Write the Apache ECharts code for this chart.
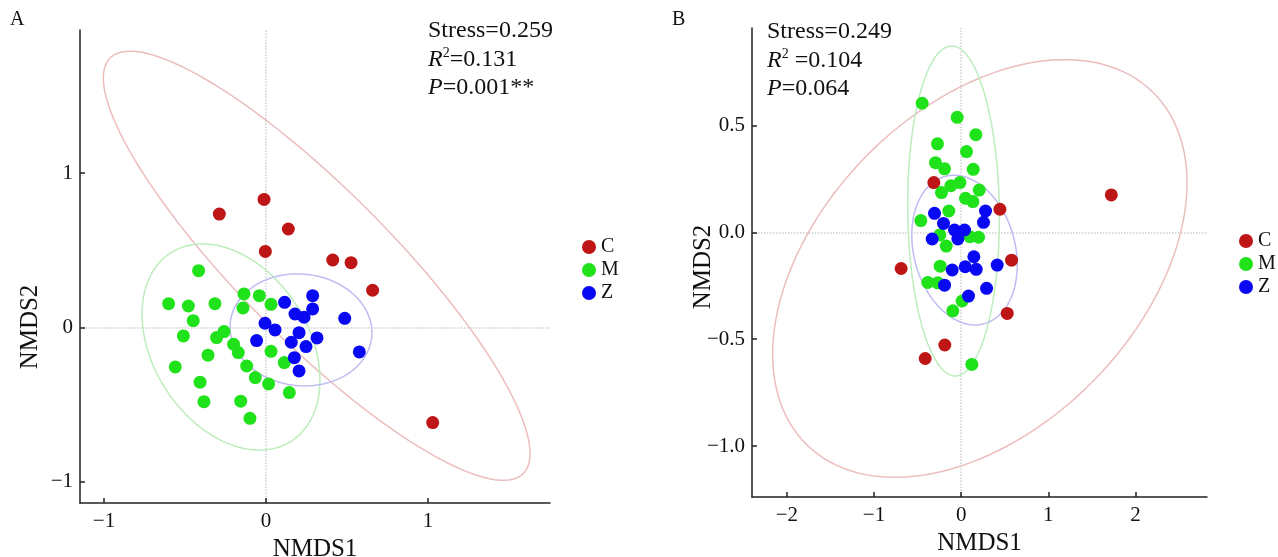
<!DOCTYPE html>
<html>
<head>
<meta charset="utf-8">
<script src="https://cdn.jsdelivr.net/npm/echarts@6/dist/echarts.min.js"></script>
<style>
html,body{margin:0;padding:0;background:#fff;}
#chart{width:1278px;height:557px;}
</style>
</head>
<body>
<div id="chart"></div>
<script>
// panel A points [NMDS1, NMDS2]
var aC=[[-0.012,0.829],[-0.288,0.734],[0.138,0.637],[-0.004,0.492],[0.412,0.436],[0.525,0.419],[0.658,0.240],[1.029,-0.618]];
var aM=[[-0.416,0.367],[-0.601,0.153],[-0.479,0.138],[-0.315,0.153],[-0.136,0.216],[-0.041,0.205],[0.031,0.149],[-0.142,0.125],
    [-0.449,0.043],[-0.510,-0.056],[-0.259,-0.028],[-0.305,-0.067],[-0.200,-0.110],[-0.171,-0.164],[0.031,-0.156],[-0.358,-0.181],
    [-0.560,-0.257],[-0.119,-0.251],[0.113,-0.229],[-0.066,-0.326],[-0.407,-0.356],[0.016,-0.367],[-0.383,-0.482],[-0.156,-0.479],
    [0.144,-0.423],[-0.099,-0.590]];
var aZ=[[0.288,0.205],[0.115,0.162],[0.288,0.119],[0.179,0.086],[0.235,0.065],[0.486,0.058],[-0.006,0.026],[0.056,-0.017],
    [0.204,-0.035],[0.315,-0.069],[-0.058,-0.086],[0.156,-0.097],[0.247,-0.125],[0.576,-0.160],[0.175,-0.197],[0.204,-0.283]];

// panel B points
var bC=[[-0.314,0.233],[0.444,0.108],[0.578,-0.130],[-0.689,-0.169],[0.528,-0.379],[-0.188,-0.527],[-0.413,-0.590],[1.722,0.175]];
var bM=[[-0.448,0.604],[-0.046,0.538],[0.168,0.457],[-0.272,0.414],[0.061,0.378],[-0.295,0.326],[-0.191,0.297],[0.138,0.295],
    [-0.015,0.233],[-0.119,0.218],[0.207,0.198],[-0.226,0.186],[0.050,0.159],[0.134,0.144],[-0.142,0.100],[-0.463,0.055],
    [-0.245,-0.012],[-0.172,-0.064],[0.100,-0.020],[0.199,-0.023],[-0.241,-0.158],[-0.383,-0.234],[-0.268,-0.236],[0.011,-0.321],
    [-0.096,-0.367],[0.122,-0.618]];
var bZ=[[-0.306,0.089],[0.279,0.100],[-0.203,0.042],[0.256,0.047],[-0.077,0.011],[0.038,0.011],[-0.038,-0.031],[-0.333,-0.031],
    [0.145,-0.114],[0.046,-0.161],[-0.103,-0.176],[0.172,-0.173],[0.413,-0.153],[-0.191,-0.247],[0.291,-0.262],[0.084,-0.298]];

// ellipses: [centre x, centre y, half width, half height, correlation]
var ellAC=[0.313,0.399,1.317,1.391,-0.875];
var ellAM=[-0.216,-0.128,0.549,0.668,-0.32];
var ellAZ=[0.216,-0.017,0.438,0.363,-0.05];
var ellBC=[0.214,-0.169,2.377,0.977,0.41];
var ellBM=[-0.088,0.100,0.526,0.772,-0.04];
var ellBZ=[0.038,-0.083,0.605,0.350,-0.2];

var groups=['C','M','Z'];
var ticksAx=[-1,0,1];
var ticksAy=[-1,0,1];
var ticksBx=[-2,-1,0,1,2];
var ticksBy=[-1.0,-0.5,0.0,0.5];

var FONT="'Liberation Serif','Times New Roman',serif";
var dotColors=['#BE1616','#20E21B','#0808F2'];
var ringColors=['#EDBDBD','#BDEDBD','#BDBDF3'];

function ellipse(p){
    var pts=[],n=140;
    var k=Math.sqrt(1-p[4]*p[4]);
    for(var i=0;i<=n;i++){
        var t=i/n*2*Math.PI;
        pts.push([p[0]+p[2]*Math.cos(t),p[1]+p[3]*(p[4]*Math.cos(t)+k*Math.sin(t))]);
    }
    return pts;
}
function minus(v){return String(v).replace('-','\u2212');}

function xAxisOf(idx,min,max,ticks,fmt){
    return {
        gridIndex:idx,type:'value',min:min,max:max,
        name:'NMDS1',nameLocation:'middle',nameGap:30,
        nameTextStyle:{fontFamily:FONT,fontSize:25,color:'#111'},
        axisLine:{onZero:false,lineStyle:{color:'#222',width:1.5}},
        axisTick:{inside:true,length:5,customValues:ticks,lineStyle:{color:'#222',width:1.5}},
        axisLabel:{customValues:ticks,margin:8,fontFamily:FONT,fontSize:21,color:'#111',formatter:fmt},
        splitLine:{show:false}
    };
}
function yAxisOf(idx,min,max,ticks,fmt){
    return {
        gridIndex:idx,type:'value',min:min,max:max,
        axisLine:{onZero:false,lineStyle:{color:'#222',width:1.5}},
        axisTick:{inside:true,length:5,customValues:ticks,lineStyle:{color:'#222',width:1.5}},
        axisLabel:{customValues:ticks,margin:7,fontFamily:FONT,fontSize:21,color:'#111',formatter:fmt},
        splitLine:{show:false}
    };
}

function panelSeries(idx,pts,ells){
    var out=[];
    ells.forEach(function(e,i){
        var s={
            name:groups[i]+'-ellipse',type:'line',xAxisIndex:idx,yAxisIndex:idx,
            data:ellipse(e),showSymbol:false,silent:true,z:1,
            lineStyle:{color:ringColors[i],width:1.5}
        };
        if(i===0){
            // zero reference lines, kept under the dots
            s.markLine={
                silent:true,z:0,symbol:['none','none'],label:{show:false},
                lineStyle:{color:'#D0D0D0',type:'dotted',width:1.5},
                data:[{xAxis:0},{yAxis:0}]
            };
        }
        out.push(s);
    });
    pts.forEach(function(d,i){
        out.push({
            name:groups[i],type:'scatter',xAxisIndex:idx,yAxisIndex:idx,
            data:d,symbol:'circle',symbolSize:13,z:3,
            itemStyle:{color:dotColors[i],opacity:1}
        });
    });
    return out;
}

function legendAt(left,top){
    return {
        orient:'vertical',left:left,top:top,itemGap:3,itemWidth:14,itemHeight:14,
        icon:'circle',selectedMode:false,
        textStyle:{fontFamily:FONT,fontSize:20,color:'#111',lineHeight:20},
        data:groups
    };
}

function statText(x,y,lines){
    var rich={
        n:{fontFamily:FONT,fontSize:24,fill:'#111'},
        i:{fontFamily:FONT,fontSize:24,fontStyle:'italic',fill:'#111'},
        s:{fontFamily:FONT,fontSize:14,fill:'#111',padding:[0,0,12,0]}
    };
    return lines.map(function(t,k){
        return {type:'text',x:x,y:y+k*28.3,style:{text:t,rich:rich,verticalAlign:'middle',fill:'#111',fontFamily:FONT,fontSize:24}};
    });
}

var chart=echarts.init(document.getElementById('chart'));
var option={
    animation:false,
    backgroundColor:'#fff',
    grid:[
        {left:80,top:30,width:470,height:473,containLabel:false,outerBoundsMode:'none'},
        {left:752,top:28,width:455,height:469,containLabel:false,outerBoundsMode:'none'}
    ],
    xAxis:[
        xAxisOf(0,-1.148,1.753,ticksAx,function(v){return minus(v);}),
        xAxisOf(1,-2.40,2.82,ticksBx,function(v){return minus(v);})
    ],
    yAxis:[
        yAxisOf(0,-1.139,1.927,ticksAy,function(v){return minus(v);}),
        yAxisOf(1,-1.238,0.956,ticksBy,function(v){return minus(v.toFixed(1));})
    ],
    legend:[legendAt(577,232),legendAt(1234,226)],
    series:panelSeries(0,[aC,aM,aZ],[ellAC,ellAM,ellAZ]).concat(panelSeries(1,[bC,bM,bZ],[ellBC,ellBM,ellBZ])),
    graphic:[
        {type:'text',x:10,y:20,style:{text:'A',fontFamily:FONT,fontSize:20,fill:'#111',verticalAlign:'middle'}},
        {type:'text',x:672,y:20,style:{text:'B',fontFamily:FONT,fontSize:20,fill:'#111',verticalAlign:'middle'}},
        {type:'text',x:30,y:327,rotation:Math.PI/2,style:{text:'NMDS2',fontFamily:FONT,fontSize:25,fill:'#111',align:'center',verticalAlign:'middle'}},
        {type:'text',x:703,y:267,rotation:Math.PI/2,style:{text:'NMDS2',fontFamily:FONT,fontSize:25,fill:'#111',align:'center',verticalAlign:'middle'}}
    ].concat(
        statText(428,31,['{n|Stress=0.259}','{i|R}{s|2}{n|=0.131}','{i|P}{n|=0.001**}']),
        statText(767,32,['{n|Stress=0.249}','{i|R}{s|2}{n| =0.104}','{i|P}{n|=0.064}'])
    )
};
chart.setOption(option);
</script>
</body>
</html>
